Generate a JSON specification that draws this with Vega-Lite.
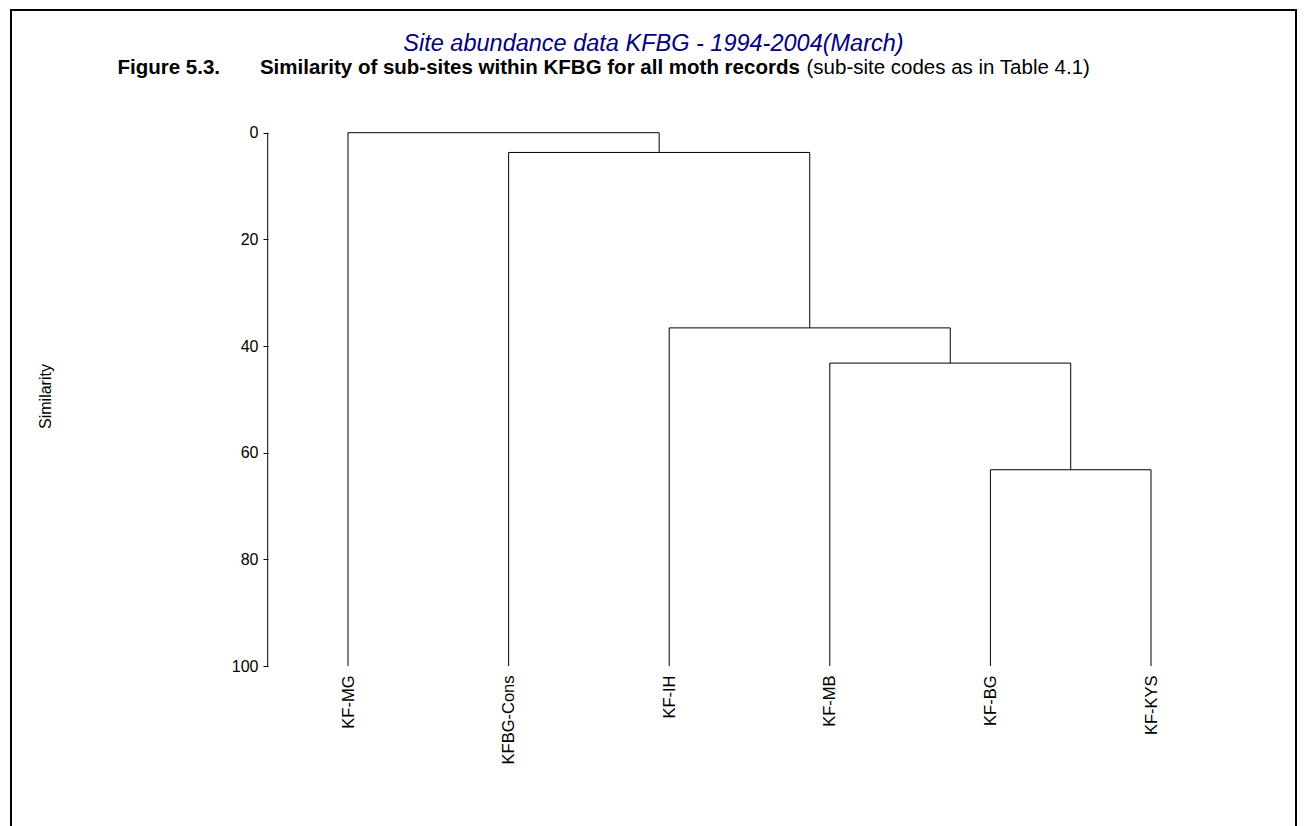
{
  "$schema": "https://vega.github.io/schema/vega-lite/v6.json",
  "autosize": {"type": "none"},
  "padding": {"left": 11, "top": 10, "right": 10, "bottom": 0},
  "width": 1285,
  "height": 840,
  "background": "white",
  "config": {
    "font": "Liberation Sans",
    "view": {"stroke": "black", "strokeWidth": 2},
    "axis": {"labelColor": "black", "titleColor": "black", "tickColor": "black", "domainColor": "black", "labelFont": "Liberation Sans", "titleFont": "Liberation Sans"}
  },
  "title": {
    "text": "Site abundance data KFBG - 1994-2004(March)",
    "font": "Liberation Sans",
    "fontStyle": "italic",
    "fontWeight": "normal",
    "fontSize": 23.5,
    "color": "#000080",
    "anchor": "middle",
    "frame": "group",
    "baseline": "alphabetic",
    "offset": 0,
    "dy": 64
  },
  "datasets": {
    "horiz": [
      {"x": 1, "x2": 2.9375, "s": 0},
      {"x": 2, "x2": 3.875, "s": 3.7},
      {"x": 3, "x2": 4.75, "s": 36.6},
      {"x": 4, "x2": 5.5, "s": 43.2},
      {"x": 5, "x2": 6, "s": 63.2}
    ],
    "vert": [
      {"x": 1, "s": 0, "s2": 100},
      {"x": 2, "s": 3.7, "s2": 100},
      {"x": 3, "s": 36.6, "s2": 100},
      {"x": 4, "s": 43.2, "s2": 100},
      {"x": 5, "s": 63.2, "s2": 100},
      {"x": 6, "s": 63.2, "s2": 100},
      {"x": 2.9375, "s": 0, "s2": 3.7},
      {"x": 3.875, "s": 3.7, "s2": 36.6},
      {"x": 4.75, "s": 36.6, "s2": 43.2},
      {"x": 5.5, "s": 43.2, "s2": 63.2}
    ],
    "axisline": [{"s": 0, "s2": 100}]
  },
  "resolve": {"axis": {"x": "independent", "y": "independent"}},
  "layer": [
    {
      "data": {"name": "horiz"},
      "mark": {"type": "rule", "color": "black", "strokeWidth": 1},
      "encoding": {
        "x": {
          "field": "x", "type": "quantitative",
          "scale": {"domain": [-1.0984, 6.9028], "nice": false, "zero": false},
          "axis": {
            "orient": "bottom", "offset": -184, "values": [1, 2, 3, 4, 5, 6],
            "labelExpr": "['', 'KF-MG', 'KFBG-Cons', 'KF-IH', 'KF-MB', 'KF-BG', 'KF-KYS'][datum.value]",
            "labelAngle": -90, "labelAlign": "right", "labelBaseline": "middle",
            "labelFontSize": 16.5, "labelPadding": 9, "ticks": false, "tickSize": 0,
            "domain": false, "grid": false, "title": null,
            "labelOverlap": false, "labelFlush": false, "labelBound": false
          }
        },
        "x2": {"field": "x2"},
        "y": {
          "field": "s", "type": "quantitative",
          "scale": {"domain": [-23.01, 134.5], "reverse": true, "nice": false, "zero": false},
          "axis": {
            "orient": "left", "offset": -257, "values": [0, 20, 40, 60, 80, 100],
            "labelFontSize": 16, "labelPadding": 5, "tickSize": 5, "domain": false, "grid": false,
            "labelOverlap": false, "labelFlush": false, "labelBound": false,
            "title": "Similarity", "titleFontSize": 16, "titleFontWeight": "normal",
            "titleAngle": -90, "titleX": -223, "titleY": 386, "titleAlign": "center", "titleBaseline": "middle"
          }
        }
      }
    },
    {
      "data": {"name": "vert"},
      "mark": {"type": "rule", "color": "black", "strokeWidth": 1},
      "encoding": {
        "x": {
          "field": "x", "type": "quantitative",
          "scale": {"domain": [-1.0984, 6.9028], "nice": false, "zero": false},
          "axis": {
            "orient": "top", "labels": false, "ticks": false, "domain": false, "grid": false,
            "title": "Figure 5.3.\u00a0\u00a0\u00a0\u00a0\u00a0\u00a0\u00a0Similarity of sub-sites within KFBG for all moth records",
            "titleFontSize": 20.5, "titleFontWeight": "bold", "titleAngle": 0,
            "titleX": 106, "titleY": 63, "titleAlign": "left", "titleBaseline": "alphabetic"
          }
        },
        "y": {
          "field": "s", "type": "quantitative",
          "scale": {"domain": [-23.01, 134.5], "reverse": true, "nice": false, "zero": false},
          "axis": {
            "orient": "right", "labels": false, "ticks": false, "domain": false, "grid": false,
            "title": "(sub-site codes as in Table 4.1)",
            "titleFontSize": 20.5, "titleFontWeight": "normal", "titleAngle": 0,
            "titleX": -490, "titleY": 63, "titleAlign": "left", "titleBaseline": "alphabetic"
          }
        },
        "y2": {"field": "s2"}
      }
    },
    {
      "data": {"name": "axisline"},
      "mark": {"type": "rule", "color": "black", "strokeWidth": 1},
      "encoding": {
        "x": {"datum": 0.5, "type": "quantitative", "axis": null},
        "y": {"field": "s", "type": "quantitative", "axis": null},
        "y2": {"field": "s2"}
      }
    }
  ]
}
